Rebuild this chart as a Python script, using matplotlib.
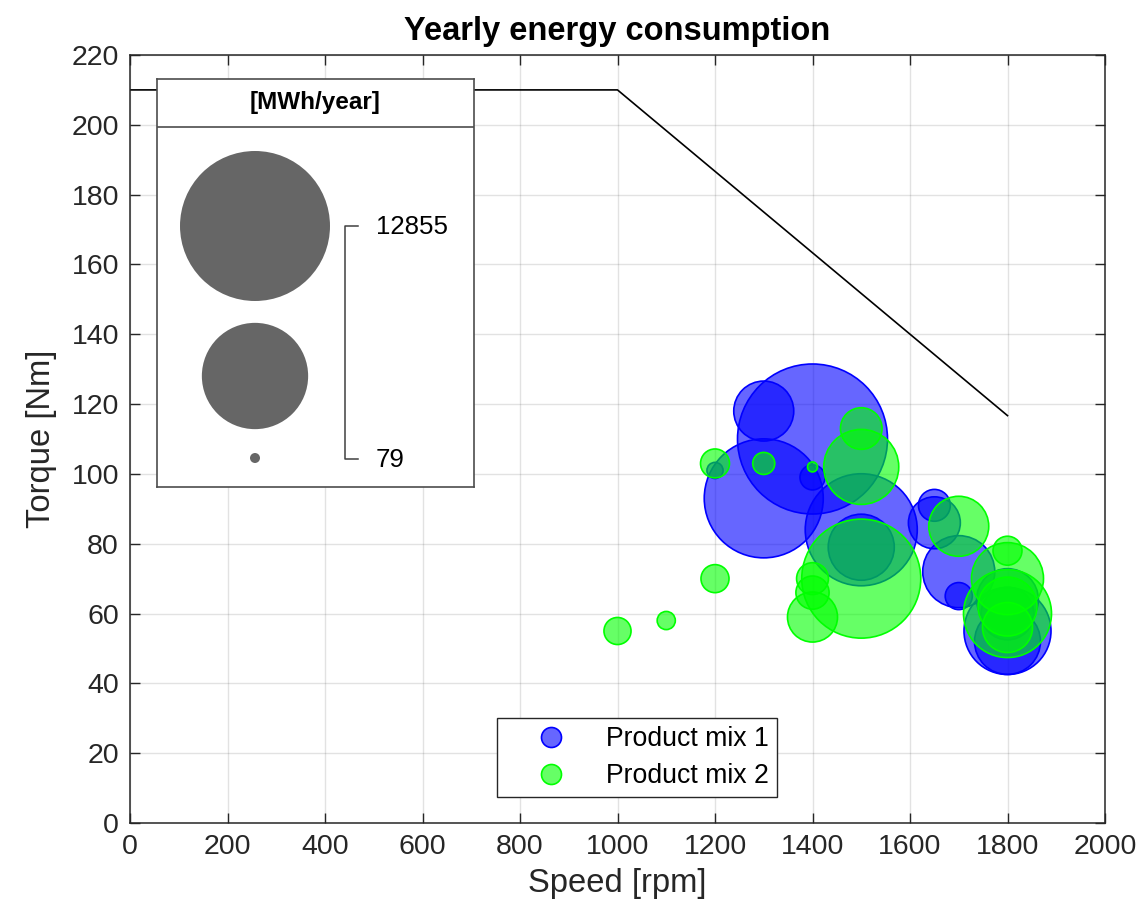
import matplotlib
matplotlib.use("Agg")
import matplotlib.pyplot as plt
import numpy as np
from matplotlib.lines import Line2D

plt.rcParams['font.family'] = ['Liberation Sans', 'DejaVu Sans']

# ---------------- data ----------------
speed1 = [1400, 1300, 1300, 1500, 1500, 1400, 1200, 1650, 1650, 1700, 1700, 1800, 1800, 1800, 1800]
torque1 = [110, 118, 93, 84, 79, 99, 101, 91, 86, 72, 65, 55, 52, 60, 64]
energy1 = [12855, 2075, 8100, 7180, 2510, 380, 170, 600, 1560, 2980, 440, 4340, 2500, 1600, 2200]

speed2 = [1500, 1500, 1500, 1200, 1300, 1400, 1700, 1200, 1400, 1400, 1400, 1000, 1100, 1800, 1800, 1800, 1800, 1800]
torque2 = [70, 102, 113, 103, 103, 102, 85, 70, 70, 66, 59, 55, 58, 78, 70, 60, 56, 62]
energy2 = [8100, 3230, 1010, 500, 300, 79, 2075, 470, 600, 650, 1450, 440, 210, 500, 2980, 4440, 1450, 2000]

limit_speed = [0, 1000, 1800]
limit_torque = [210, 210, 116.7]

series_names = ["Product mix 1", "Product mix 2"]
legend_values = [12855, 79]
x_ticks = list(range(0, 2001, 200))
y_ticks = list(range(0, 221, 20))

# ---------------- style ----------------
DPI = 100
W, H = 1144, 917
DMIN_PX, DMAX_PX = 10.0, 150.0
vmin, vmax = min(energy1 + energy2), max(energy1 + energy2)
vmin, vmax = min(vmin, legend_values[1]), max(vmax, legend_values[0])

def bubble_s(v):
    v = np.asarray(v, dtype=float)
    d2 = DMIN_PX**2 + (v - vmin) / (vmax - vmin) * (DMAX_PX**2 - DMIN_PX**2)
    d_pt = np.sqrt(d2) * 72.0 / DPI
    return d_pt**2

dark = (0.15, 0.15, 0.15)
blue_face = (0, 0, 1, 0.6)
green_face = (0, 1, 0, 0.6)

fig = plt.figure(figsize=(W / DPI, H / DPI), dpi=DPI)
ax = fig.add_axes([130 / W, (H - 823) / H, 975 / W, 768 / H])

ax.plot(limit_speed, limit_torque, color='black', lw=1.2, zorder=2)
ax.scatter(speed1, torque1, s=bubble_s(energy1), facecolor=blue_face,
           edgecolor=(0, 0, 1), linewidths=1.2, zorder=3)
ax.scatter(speed2, torque2, s=bubble_s(energy2), facecolor=green_face,
           edgecolor=(0, 1, 0), linewidths=1.2, zorder=4)

ax.set_xlim(0, 2000)
ax.set_ylim(0, 220)
ax.set_xticks(x_ticks)
ax.set_yticks(y_ticks)
ax.tick_params(direction='in', top=True, right=True, labelsize=20.5,
               colors=dark, length=7, width=1.0, pad=8)
for sp in ax.spines.values():
    sp.set_color(dark)
    sp.set_linewidth(1.1)
ax.grid(True, color=(0.15, 0.15, 0.15), alpha=0.13, lw=1.0)
ax.set_axisbelow(True)

ax.set_xlabel("Speed [rpm]", fontsize=23.6, color=dark, labelpad=6)
ax.set_ylabel("Torque [Nm]", fontsize=23.6, color=dark, labelpad=10)
ax.set_title("Yearly energy consumption", fontsize=23.5, fontweight='bold',
             color='black', pad=11)

handles = [
    Line2D([0], [0], marker='o', ls='none', markersize=14.4,
           markerfacecolor=blue_face, markeredgecolor=(0, 0, 1), markeredgewidth=1.2),
    Line2D([0], [0], marker='o', ls='none', markersize=14.4,
           markerfacecolor=green_face, markeredgecolor=(0, 1, 0), markeredgewidth=1.2),
]
leg = ax.legend(handles, series_names, loc='lower center',
                bbox_to_anchor=((637 - 130) / 975, (823 - 797) / 768),
                borderaxespad=0, fontsize=19.2, frameon=True, fancybox=False,
                edgecolor=dark, handlelength=3.45, handletextpad=0.33,
                borderpad=0.3, labelspacing=0.4)
leg.get_frame().set_linewidth(1.0)
leg.get_frame().set_alpha(1.0)
leg.set_zorder(10)

# ---------------- bubble size legend ----------------
bl, br, bt, bb = 157, 474, 79, 487
lax = fig.add_axes([bl / W, (H - bb) / H, (br - bl) / W, (bb - bt) / H])
lax.set_xlim(0, br - bl)
lax.set_ylim(bb - bt, 0)
lax.set_xticks([])
lax.set_yticks([])
for sp in lax.spines.values():
    sp.set_color((0.3, 0.3, 0.3))
    sp.set_linewidth(1.2)
lax.set_zorder(11)
lax.patch.set_facecolor('white')
lax.axhline(48, color=(0.3, 0.3, 0.3), lw=1.2)
lax.text((br - bl) / 2, 24, "[MWh/year]", fontsize=17.5, fontweight='bold',
         ha='center', va='center', color='black')
mid_val = (legend_values[0] + legend_values[1]) / 2
lax.scatter([98, 98, 98], [147, 297, 379],
            s=bubble_s([legend_values[0], mid_val, legend_values[1]]),
            color=(0.4, 0.4, 0.4), edgecolor='none', clip_on=False)
lax.plot([201, 188, 188, 201], [147, 147, 380, 380], color=(0.25, 0.25, 0.25), lw=1.1)
lax.text(219, 148, str(legend_values[0]), fontsize=18.6, va='center', ha='left', color='black')
lax.text(219, 381, str(legend_values[1]), fontsize=18.6, va='center', ha='left', color='black')

fig.savefig("out.png", dpi=DPI, facecolor='white')
